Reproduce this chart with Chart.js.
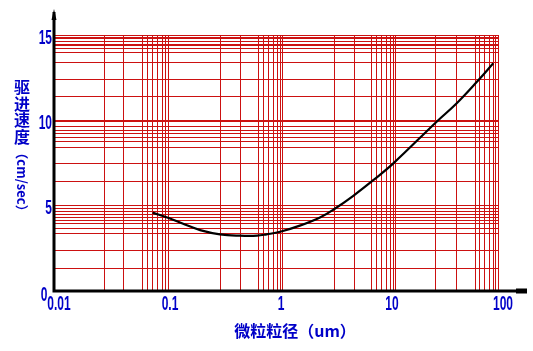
<!DOCTYPE html>
<html>
<head>
<meta charset="utf-8">
<script src="https://cdn.jsdelivr.net/npm/chart.js@4.4.1/dist/chart.umd.min.js"></script>
<style>
  body { margin: 0; background: #fff; }
  #wrap { width: 533px; height: 351px; }
</style>
</head>
<body>
<div id="wrap"><canvas id="chartCanvas" width="533" height="351"></canvas></div>
<script>
// 微粒粒径 (um) 与 驱进速度 (cm/sec)，从曲线上读取
const sizes  = [0.0774, 0.111, 0.151, 0.207, 0.313, 0.474, 0.675, 0.824, 1.09, 1.64, 2.49, 3.28, 4.97, 7.64, 11.4, 28.0, 42.5, 64.3, 90.7];
const speeds = [4.59, 4.25, 3.90, 3.57, 3.32, 3.24, 3.24, 3.32, 3.47, 3.83, 4.31, 4.76, 5.58, 6.53, 7.48, 9.92, 11.0, 12.24, 13.34];

// labelled ticks
const xLabels = [0.01, 0.1, 1, 10, 100];
const yLabels = [0, 5, 10, 15];

// red grid of the paper (not evenly spaced)
const xGrid = [
  0.0284, 0.0427, 0.0625, 0.0693, 0.0768, 0.0852, 0.0940, 0.1, 0.107,
  0.318, 0.481, 0.698, 0.768, 0.860, 0.946, 1.036, 1.093, 1.140,
  3.38, 5.12, 7.28, 8.08, 8.96, 9.94, 10.8, 11.4, 11.88,
  27.5, 42.5, 62.1, 67.9, 75.3, 83.0, 92.0, 95.9, 100
];
const yGrid = [
  1.31, 2.36, 3.34, 3.65, 3.93, 4.12, 4.32, 4.51, 4.67, 4.82, 5,
  6.43, 7.48, 8.42, 8.77, 9.01, 9.20, 9.39, 9.63, 9.92, 10,
  11.37, 12.42, 13.36, 13.95, 14.18, 14.36, 14.47, 14.59, 14.77, 14.88, 15
];

const BLUE = "#0000c8";
const RED = "#cc1111";
const cjk = "'Noto Sans CJK SC','Noto Sans CJK JP',sans-serif";

const merge = (a, b) => [...new Set([...a, ...b])].sort((p, q) => p - q);

// narrow bold digits, like the original
const narrowText = (c, txt, x, y, align) => {
  c.save();
  c.translate(x, y);
  c.scale(0.6, 1);
  c.textAlign = align;
  c.fillText(txt, 0, 0);
  c.restore();
};

// axis lines with arrows, tick labels and the two titles
const decor = {
  id: "decor",
  afterDraw(chart) {
    const c = chart.ctx;
    const { left, bottom } = chart.chartArea;
    const xs = chart.scales.x, ys = chart.scales.y;
    c.save();
    c.strokeStyle = "#000";
    c.fillStyle = "#000";
    c.lineWidth = 3;
    c.beginPath();
    c.moveTo(left, bottom + 1.5);
    c.lineTo(left, 12);
    c.moveTo(left - 1.5, bottom);
    c.lineTo(520, bottom);
    c.stroke();
    c.beginPath();
    c.moveTo(left - 2.5, 20); c.lineTo(left + 2.5, 20); c.lineTo(left, 9); c.closePath();
    c.fill();
    c.fillRect(516, bottom - 2.5, 11, 5);

    c.fillStyle = BLUE;
    c.textBaseline = "middle";
    c.font = "bold 20px 'Liberation Sans', Arial, sans-serif";
    xLabels.forEach(v => narrowText(c, String(v), xs.getPixelForValue(v) + 5, bottom + 13, "center"));
    yLabels.forEach(v => {
      if (v === 0) narrowText(c, "0", left - 10, bottom + 4, "center");
      else narrowText(c, String(v), left - 2, ys.getPixelForValue(v) + 3, "right");
    });

    c.textAlign = "center";
    c.font = "bold 16px " + cjk;
    ["驱", "进", "速", "度"].forEach((ch, i) => c.fillText(ch, 22, 87 + i * 16.5));
    c.save();
    c.translate(22, 182);
    c.rotate(Math.PI / 2);
    c.font = "bold 13px " + cjk;
    c.fillText("（cm/sec）", 0, 0);
    c.restore();
    c.font = "bold 16px " + cjk;
    c.fillText("微粒粒径（um）", 295, 331);
    c.restore();
  }
};

const ctx = document.getElementById("chartCanvas").getContext("2d");
new Chart(ctx, {
  type: "line",
  data: {
    datasets: [{
      data: sizes.map((s, i) => ({ x: s, y: speeds[i] })),
      borderColor: "#000",
      borderWidth: 2.2,
      pointRadius: 0,
      tension: 0.4,
      fill: false
    }]
  },
  options: {
    responsive: false,
    animation: false,
    layout: { padding: { left: 0, right: 35, top: 35, bottom: 0 } },
    plugins: { legend: { display: false }, tooltip: { enabled: false } },
    scales: {
      x: {
        type: "logarithmic",
        min: 0.01,
        max: 100,
        afterBuildTicks: (s) => { s.ticks = merge(xLabels, xGrid).map(v => ({ value: v })); },
        afterFit: (s) => { s.height = 60; },
        border: { display: false },
        grid: {
          color: (g) => (g.tick && xGrid.includes(g.tick.value)) ? RED : "rgba(0,0,0,0)",
          lineWidth: 1,
          drawTicks: false
        },
        ticks: { display: false, autoSkip: false }
      },
      y: {
        type: "linear",
        min: 0,
        max: 15,
        afterBuildTicks: (s) => { s.ticks = merge(yLabels, yGrid).map(v => ({ value: v })); },
        afterFit: (s) => { s.width = 54; },
        border: { display: false },
        grid: {
          color: (g) => (g.tick && yGrid.includes(g.tick.value)) ? RED : "rgba(0,0,0,0)",
          lineWidth: 1,
          drawTicks: false
        },
        ticks: { display: false, autoSkip: false }
      }
    }
  },
  plugins: [decor]
});
</script>
</body>
</html>
